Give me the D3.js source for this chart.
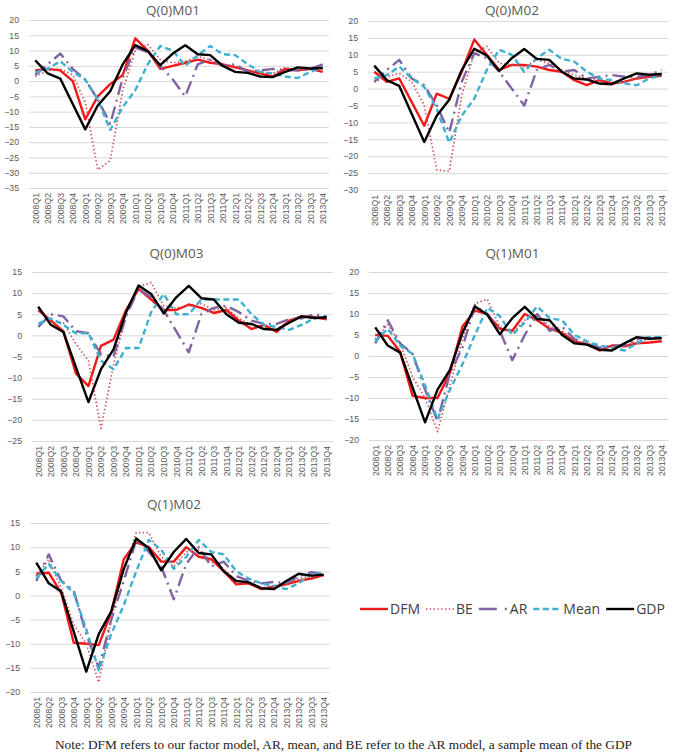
<!DOCTYPE html>
<html>
<head>
<meta charset="utf-8">
<script src="https://cdn.jsdelivr.net/npm/d3@7"></script>
<style>
  html, body { margin: 0; padding: 0; background: #fff; }
  svg { display: block; }
</style>
</head>
<body>
<div id="chart"></div>
<script>
!(function (d3) {

  // ---- data ----
  var quarters = ['2008Q1', '2008Q2', '2008Q3', '2008Q4', '2009Q1', '2009Q2', '2009Q3', '2009Q4',
    '2010Q1', '2010Q2', '2010Q3', '2010Q4', '2011Q1', '2011Q2', '2011Q3', '2011Q4',
    '2012Q1', '2012Q2', '2012Q3', '2012Q4', '2013Q1', '2013Q2', '2013Q3', '2013Q4'];

  var seriesNames = ['DFM', 'BE', 'AR', 'Mean', 'GDP'];
  var panelTitles = ['Q(0)M01', 'Q(0)M02', 'Q(0)M03', 'Q(1)M01', 'Q(1)M02'];
  var yDomains = [[-35, 20], [-30, 20], [-25, 15], [-20, 20], [-20, 15]];

  var gdp = [6.8, 2.5, 0.8, -7.5, -15.8, -8, -3.3, 5.5, 11.8, 9.8, 5.2, 9, 11.7, 8.8, 8.5, 5, 3, 2.7, 1.5, 1.3, 3, 4.5, 4.1, 4.3];

  var q0m01Dfm = [3.5, 4, 3.5, 0, -12.5, -5, -1, 2, 14, 10, 4, 5, 6, 7, 6, 5.5, 4.5, 3.5, 2.5, 1.5, 4, 3.5, 4, 3];
  var q0m01Be = [1.5, 3.5, 4, 2, -7, -29, -26, -3, 10, 12, 7, 6, 6.5, 8, 7, 5.5, 5, 3.5, 3, 2.5, 4.5, 3.5, 4, 4];
  var q0m01Ar = [2, 5.5, 9, 4, 0.5, -6, -14, 1, 11, 9.5, 5, 0.5, -5, 5.5, 7, 5, 5.5, 3, 3.5, 4, 3.5, 3.5, 4, 5.5];
  var q0m01Mean = [2.8, 4, 6.5, 3, 0.5, -6, -16, -8.5, -3, 5.5, 11.5, 10, 5, 8.5, 11.5, 8.8, 8.5, 5.5, 3, 2.5, 1.5, 1, 3, 4.5];

  var q0m02Dfm = [5, 2, 3, -4, -11, -1.5, -3, 5, 14.5, 10, 5.5, 7, 7, 6.5, 5.5, 5, 2.5, 1, 2.5, 1.5, 2, 3, 3.5, 3.8];
  var q0m02Be = [2, 3.5, 4.5, 2, -5, -24, -24.5, -2, 10.5, 12.5, 7.5, 7, 6.5, 8.5, 7.5, 5.5, 4, 3, 2.5, 2, 2, 3, 3.5, 4];
  var q0m02Ar = [2, 5.5, 8.5, 3, 1, -5, -13, 2, 10.5, 9, 5, 0, -5, 5.5, 7, 5, 5.5, 3, 3.5, 4, 3.5, 3.5, 4, 5.5];
  var q0m02Mean = [3, 4, 6.5, 3, 0.5, -6, -16, -8, -3, 5.5, 11.5, 10, 5, 9, 11.5, 8.8, 8, 5, 3, 2.5, 1.5, 1, 3, 4];

  var q0m03Dfm = [6, 3.5, 1, -9, -12, -2.5, -1, 6, 11, 8.5, 6, 6, 7.3, 6.5, 5.3, 6, 3.5, 1.5, 2.5, 0.8, 3.5, 4.5, 4.3, 3.8];
  var q0m03Be = [6.5, 3.5, 3, -2, -6, -22, -7, 5, 11.5, 12.5, 7, 6.5, 7, 7.5, 6, 6.5, 4, 2.5, 2, 1.5, 3.5, 4.5, 4.5, 4];
  var q0m03Ar = [2, 5, 4.5, 1, 0.5, -4.5, -5, 4.5, 11, 9, 6, 1, -4, 5, 6.5, 7, 5.5, 3.5, 2.7, 2.7, 3.8, 4, 5, 4.5];
  var q0m03Mean = [2.8, 4, 2.5, 0.5, 0.5, -6, -8, -3, -3, 5.5, 9.8, 5, 5, 8.5, 8.5, 8.5, 8.5, 5, 2.5, 2, 1.3, 2.5, 4, 4.5];

  var q1m01Dfm = [5, 4.8, 1, -9.5, -10, -10, -4, 7, 10.8, 10, 6.5, 6, 10, 8.5, 6.5, 5.5, 3.5, 2.8, 1.3, 2.5, 2.3, 3, 3.2, 3.5];
  var q1m01Be = [4, 7.5, 3, -5, -10, -18, -7, 4, 12.5, 13.5, 7, 5.5, 8.5, 10, 7, 6, 3.5, 3, 2, 2, 2.5, 3.5, 4, 4];
  var q1m01Ar = [3, 8.5, 3, 0.5, -8, -15.5, -4, 2, 12, 10, 6, -1, 5, 10, 6, 7, 4, 3, 2, 2.5, 2.5, 4, 4.5, 4.5];
  var q1m01Mean = [3.5, 6.5, 2.5, 0.5, -7, -15, -8, -2, 5, 11.5, 9.5, 5, 8, 11.8, 9, 8.5, 5, 3.5, 2.5, 2, 1.3, 3, 4.5, 4.5];

  var q1m02Dfm = [4.5, 4.7, 0.5, -9.8, -10, -10.3, -3.5, 7.5, 11, 10, 7, 7, 10, 8, 7.5, 5, 2.3, 2.5, 1.3, 1.8, 2.3, 3, 3.5, 4.2];
  var q1m02Be = [4, 7.5, 1.5, -6, -10, -18, -5, 5, 13, 13, 8, 6, 9, 9.5, 7, 5.5, 3, 2.8, 1.5, 2, 2.5, 3.5, 4, 4];
  var q1m02Ar = [3, 8.5, 3, 1, -8, -15, -5, 3, 11.5, 9, 6, -0.8, 6.5, 10, 6, 7, 4, 3, 2.5, 2.8, 2.5, 4, 4.8, 4.5];
  var q1m02Mean = [3.5, 6.5, 3, 0.5, -7, -15.5, -8, -2, 5, 11.5, 9.5, 5.5, 8, 11.5, 9, 8.5, 5, 3.5, 2.5, 2, 1.3, 2.5, 4.5, 4.5];

  var panelSeries = [
    [q0m01Dfm, q0m01Be, q0m01Ar, q0m01Mean, gdp],
    [q0m02Dfm, q0m02Be, q0m02Ar, q0m02Mean, gdp],
    [q0m03Dfm, q0m03Be, q0m03Ar, q0m03Mean, gdp],
    [q1m01Dfm, q1m01Be, q1m01Ar, q1m01Mean, gdp],
    [q1m02Dfm, q1m02Be, q1m02Ar, q1m02Mean, gdp]
  ];

  // ---- look ----
  var styles = [
    { color: '#f01818', width: 2.4, dash: null },
    { color: '#cf4f55', width: 1.7, dash: '1.4,2.4' },
    { color: '#8064a2', width: 2.4, dash: '13,5,2,5' },
    { color: '#3fb0cf', width: 2.4, dash: '6,3.5' },
    { color: '#000000', width: 2.4, dash: null }
  ];

  // plot boxes: left, right, top (y of max tick), bottom (y of min tick), title baseline
  var layout = [
    { left: 29, right: 329, top: 20, bottom: 188, titleY: 15 },
    { left: 368, right: 668, top: 21, bottom: 190, titleY: 15 },
    { left: 32, right: 333, top: 272, bottom: 441, titleY: 258 },
    { left: 369, right: 668, top: 272, bottom: 440, titleY: 258 },
    { left: 30, right: 330, top: 523, bottom: 692, titleY: 509 }
  ];

  var svg = d3.select('#chart').append('svg')
      .attr('width', 674)
      .attr('height', 752);

  var tickFont = '8.7px "Liberation Sans", Arial, sans-serif';

  panelSeries.forEach(function (series, p) {
    var box = layout[p];
    var dom = yDomains[p];

    var x = d3.scalePoint()
        .domain(quarters)
        .range([box.left, box.right])
        .padding(0.5);

    var y = d3.scaleLinear()
        .domain(dom)
        .range([box.bottom, box.top]);

    var g = svg.append('g');

    g.append('text')
        .attr('x', (box.left + box.right) / 2 - 6)
        .attr('y', box.titleY)
        .style('font', '13.5px "Open Sans", sans-serif')
        .style('fill', '#595959')
        .style('text-anchor', 'middle')
        .text(panelTitles[p]);

    // gridlines + y labels
    var yAxis = g.append('g')
        .attr('transform', 'translate(' + box.left + ',0)')
        .call(d3.axisLeft(y)
          .tickValues(d3.range(dom[0], dom[1] + 1, 5))
          .tickSize(-(box.right - box.left))
          .tickPadding(10));

    yAxis.select('.domain').remove();
    yAxis.selectAll('g line')
        .style('stroke', '#d9d9d9')
        .style('stroke-width', 1);
    yAxis.selectAll('g text')
        .style('font', tickFont)
        .style('fill', '#595959');

    // x labels
    var xAxis = g.append('g')
        .attr('transform', 'translate(0,' + box.bottom + ')')
        .call(d3.axisBottom(x).tickSize(0));

    xAxis.select('.domain').remove();
    xAxis.selectAll('g text')
        .attr('transform', 'rotate(-90)')
        .attr('x', -5)
        .attr('y', 0)
        .attr('dy', '0.32em')
        .style('text-anchor', 'end')
        .style('font', tickFont)
        .style('fill', '#595959');

    var line = d3.line()
        .x(function (d, i) { return x(quarters[i]); })
        .y(function (d) { return y(d); });

    g.append('g').selectAll('path')
        .data(series)
      .enter().append('path')
        .attr('d', line)
        .style('fill', 'none')
        .style('stroke', function (d, i) { return styles[i].color; })
        .style('stroke-width', function (d, i) { return styles[i].width; })
        .style('stroke-dasharray', function (d, i) { return styles[i].dash; })
        .style('stroke-linejoin', 'round');
  });

  // ---- legend ----
  var legend = svg.append('g')
      .attr('transform', 'translate(360,609)');

  var cursor = 0;
  seriesNames.forEach(function (name, i) {
    var segLen = i === 2 ? 29 : 28;
    legend.append('line')
        .attr('x1', cursor)
        .attr('x2', cursor + segLen)
        .style('stroke', styles[i].color)
        .style('stroke-width', styles[i].width)
        .style('stroke-dasharray', i === 2 ? '18,8,2,8' : styles[i].dash);
    var label = legend.append('text')
        .attr('x', cursor + segLen + 2)
        .attr('dy', '0.35em')
        .style('font', '14px "Open Sans", sans-serif')
        .style('fill', '#404040')
        .text(name);
    cursor += segLen + 2 + label.node().getComputedTextLength() + 6;
  });

  // ---- note ----
  svg.append('text')
      .attr('x', 55)
      .attr('y', 749)
      .attr('textLength', 577)
      .attr('lengthAdjust', 'spacingAndGlyphs')
      .style('font', '13px "Liberation Serif", "DejaVu Serif", serif')
      .style('fill', '#222')
      .text('Note: DFM refers to our factor model, AR, mean, and BE refer to the AR model, a sample mean of the GDP');

})(d3);
</script>
</body>
</html>
